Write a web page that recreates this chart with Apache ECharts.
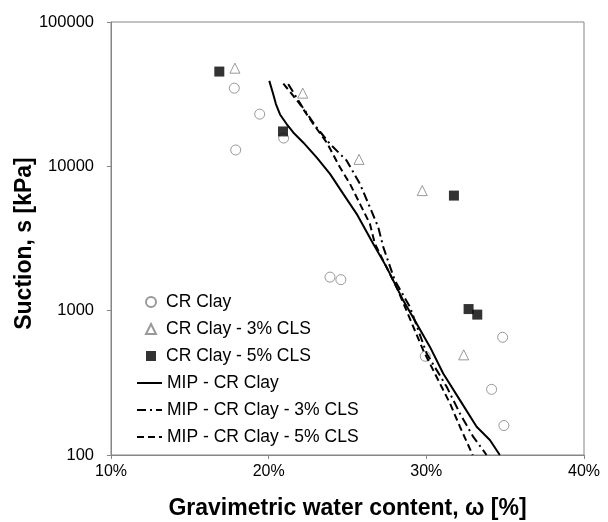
<!DOCTYPE html>
<html>
<head>
<meta charset="utf-8">
<title>Suction vs water content</title>
<script src="https://cdn.jsdelivr.net/npm/echarts@6/dist/echarts.min.js"></script>
<style>
  html, body { margin: 0; padding: 0; background: #fff; }
  #chart { width: 608px; height: 522px; }
</style>
</head>
<body>
<div id="chart"></div>
<script>
// measured points (water content %, suction kPa)
const crClayW = [17.82, 19.43, 20.95, 17.91, 23.89, 24.58, 34.84, 29.93, 34.14, 34.92]
const crClayS = [34800, 23000, 15700, 12980, 1708, 1640, 654, 483, 285, 160]

const cls3W = [17.86, 22.16, 25.73, 29.74, 32.37]
const cls3S = [47860, 32150, 11170, 6790, 494]

const cls5W = [16.87, 20.91, 31.75, 32.68, 33.23]
const cls5S = [45350, 17450, 6270, 1026, 939]

// MIP curves
const mipW = [20.04, 20.29, 20.46, 20.72, 21.14, 21.56, 22.19, 23.04, 23.89, 24.73, 25.58, 26.63, 27.48, 28.53, 29.38, 30.23, 31.07, 32.13, 33.19, 34.03, 34.66]
const mipS = [39100, 31600, 27000, 22880, 19630, 17170, 14640, 11530, 8860, 6445, 4686, 2906, 2003, 1179, 814, 561, 367, 240, 157, 127, 100]

const mip3W = [21.24, 22.17, 23.04, 23.89, 24.95, 25.79, 26.42, 26.95, 27.27, 28.0, 28.96, 30.02, 31.29, 32.13, 32.97, 33.82]
const mip3S = [37100, 25500, 18600, 14280, 10950, 7553, 5206, 3786, 2754, 1622, 1060, 505, 297, 194, 134, 100]

const mip5W = [20.93, 21.56, 21.98, 22.83, 23.68, 24.52, 25.16, 25.79, 26.42, 26.74, 28.2, 29.8, 30.86, 31.5, 32.13, 32.94]
const mip5S = [37450, 30800, 27000, 19630, 14640, 9840, 7553, 5495, 3998, 2906, 1383, 532, 313, 228, 157, 100]

const xTicks = [10, 20, 30, 40]
const yTicks = [100, 1000, 10000, 100000]

const zip = (xs, ys) => xs.map((x, i) => [x, ys[i]])

const font = 'Liberation Sans, Arial, sans-serif'
const axisGray = '#868686'

const chart = echarts.init(document.getElementById('chart'))

chart.setOption({
  animation: false,
  textStyle: { fontFamily: font },
  grid: {
    left: 111, right: 24, top: 22, bottom: 67,
    outerBoundsMode: 'none',
    show: true, borderColor: axisGray, borderWidth: 1
  },
  legend: [
    {
      // marker series
      left: 140, top: 288, orient: 'vertical',
      itemWidth: 10, itemHeight: 10, itemGap: 9,
      data: ['CR Clay', 'CR Clay - 3% CLS', 'CR Clay - 5% CLS'],
      textStyle: { fontSize: 17.5, color: '#000', lineHeight: 18, padding: [0, 0, 0, 5] }
    },
    {
      // MIP lines, no symbol in the icon
      left: 131, top: 369, orient: 'vertical',
      itemWidth: 25, itemHeight: 10, itemGap: 9,
      itemStyle: { opacity: 0 },
      data: ['MIP - CR Clay', 'MIP - CR Clay - 3% CLS', 'MIP - CR Clay - 5% CLS'],
      textStyle: { fontSize: 17.5, color: '#000', lineHeight: 18 }
    }
  ],
  xAxis: {
    type: 'value',
    min: xTicks[0], max: xTicks[xTicks.length - 1], interval: 10,
    name: 'Gravimetric water content, ω [%]',
    nameLocation: 'middle', nameGap: 42, nameMoveOverlap: false,
    nameTextStyle: { fontSize: 23, fontWeight: 'bold', color: '#000' },
    axisLine: { lineStyle: { color: axisGray, width: 1 } },
    axisTick: { length: 4, lineStyle: { color: axisGray } },
    axisLabel: { fontSize: 16, color: '#000', margin: 9, formatter: '{value}%' },
    splitLine: { show: false }
  },
  yAxis: {
    type: 'log', logBase: 10,
    min: yTicks[0], max: yTicks[yTicks.length - 1],
    name: 'Suction, s [kPa]',
    nameLocation: 'middle', nameGap: 75, nameMoveOverlap: false,
    nameTextStyle: { fontSize: 23, fontWeight: 'bold', color: '#000', padding: [0, 10, 0, 0] },
    axisLine: { show: true, lineStyle: { color: axisGray, width: 1 } },
    axisTick: { length: 4, lineStyle: { color: axisGray } },
    axisLabel: { fontSize: 16.5, color: '#000', margin: 17, formatter: v => String(Math.round(v)) },
    minorTick: { show: false },
    splitLine: { show: false }
  },
  series: [
    {
      name: 'CR Clay', type: 'scatter', symbol: 'circle', symbolSize: 10,
      itemStyle: { color: '#fff', borderColor: '#808080', borderWidth: 1 },
      data: zip(crClayW, crClayS)
    },
    {
      name: 'CR Clay - 3% CLS', type: 'scatter', symbol: 'triangle', symbolSize: 10,
      itemStyle: { color: '#fff', borderColor: '#808080', borderWidth: 1 },
      data: zip(cls3W, cls3S)
    },
    {
      name: 'CR Clay - 5% CLS', type: 'scatter', symbol: 'rect', symbolSize: 10,
      itemStyle: { color: '#000' },
      data: zip(cls5W, cls5S)
    },
    {
      name: 'MIP - CR Clay', type: 'line', symbol: 'none', showSymbol: false,
      lineStyle: { color: '#000', width: 2 },
      itemStyle: { color: '#000' },
      data: zip(mipW, mipS)
    },
    {
      name: 'MIP - CR Clay - 3% CLS', type: 'line', symbol: 'none', showSymbol: false,
      lineStyle: { color: '#000', width: 2, type: [9, 4, 2, 4] },
      itemStyle: { color: '#000' },
      data: zip(mip3W, mip3S)
    },
    {
      name: 'MIP - CR Clay - 5% CLS', type: 'line', symbol: 'none', showSymbol: false,
      lineStyle: { color: '#000', width: 2, type: [7, 4] },
      itemStyle: { color: '#000' },
      data: zip(mip5W, mip5S)
    }
  ]
})
</script>
</body>
</html>
